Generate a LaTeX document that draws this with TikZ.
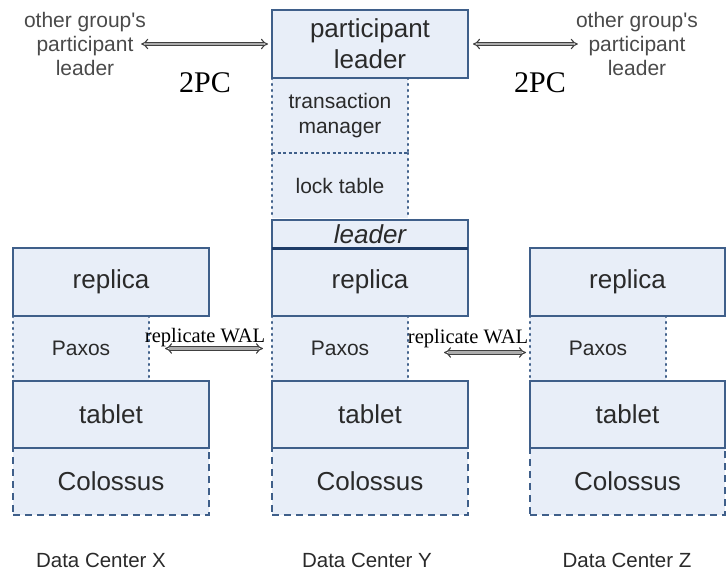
\documentclass[tikz,border=0pt]{standalone}
\usepackage{fontspec}
\setsansfont{Liberation Sans}
\newfontfamily\serifB{Liberation Serif}
\usetikzlibrary{arrows.meta}
\definecolor{boxfill}{HTML}{E8EEF8}
\definecolor{boxline}{HTML}{3F5F8A}
\definecolor{navyline}{HTML}{1E3C68}
\definecolor{txt}{HTML}{2A2A2A}
\definecolor{graytxt}{HTML}{4A4A4A}
\begin{document}
\begin{tikzpicture}[x=1pt,y=-1pt,
  base/.style={anchor=north west, inner sep=0pt, outer sep=0pt, text=txt, align=center},
  solidbox/.style={base, draw=boxline, line width=1.6pt, fill=boxfill,
    font=\sffamily\fontsize{26}{32}\selectfont},
  dashbox/.style={base, draw=boxline, line width=1.6pt, fill=boxfill,
    dash pattern=on 7pt off 5pt, font=\sffamily\fontsize{26}{32}\selectfont},
  dotregion/.style={base, fill=boxfill, font=\sffamily\fontsize{21}{25}\selectfont},
  dotside/.style={draw=boxline, line width=2.2pt, line cap=round, dash pattern=on 1pt off 5pt},
  conn/.style={draw=black!75, double=gray!65, double distance=2.4pt, line width=1.1pt, {Implies}-{Implies}},
  lbl/.style={inner sep=0pt, font=\serifB\fontsize{20.5}{24}\selectfont, text=black},
  bigl/.style={inner sep=0pt, font=\serifB\fontsize{30}{32}\selectfont, text=black},
  side/.style={inner sep=0pt, align=center, text=graytxt, font=\sffamily\fontsize{21}{24}\selectfont},
  dc/.style={inner sep=0pt, text=txt, font=\sffamily\fontsize{20.5}{24}\selectfont}
]
\useasboundingbox (0,0) rectangle (726,571);

% ---------- Colossus (dashed) ----------
\node[dashbox, minimum width=196pt, minimum height=67pt] (cX) at (13,448) {Colossus};
\node[dashbox, minimum width=196pt, minimum height=67pt] (cY) at (272,448) {Colossus};
\node[dashbox, minimum width=195pt, minimum height=67pt] (cZ) at (530,448) {Colossus};

% ---------- Paxos dotted regions ----------
\node[dotregion, minimum width=136pt, minimum height=65pt] (pX) at (13,316) {Paxos};
\node[dotregion, minimum width=136pt, minimum height=65pt] (pY) at (272,316) {Paxos};
\node[dotregion, minimum width=136pt, minimum height=65pt] (pZ) at (530,316) {Paxos};
\foreach \n in {pX,pY,pZ}{
  \draw[dotside] (\n.north west) -- (\n.south west);
  \draw[dotside] (\n.north east) -- (\n.south east);
}

% ---------- transaction manager / lock table ----------
\node[dotregion, minimum width=136pt, minimum height=75pt] (tm) at (272,78) {transaction\\manager};
\node[dotregion, minimum width=136pt, minimum height=65pt] (lt) at (272,153) {lock table};
\foreach \n in {tm,lt}{
  \draw[dotside] (\n.north west) -- (\n.south west);
  \draw[dotside] (\n.north east) -- (\n.south east);
}
\draw[draw=boxline, line width=1.8pt, dash pattern=on 3pt off 2.5pt] (lt.north west) -- (lt.north east);

% ---------- solid boxes ----------
\node[solidbox, minimum width=196pt, minimum height=68pt] (rX) at (13,248) {replica};
\node[solidbox, minimum width=196pt, minimum height=68pt] (rY) at (272,248) {replica};
\node[solidbox, minimum width=195pt, minimum height=68pt] (rZ) at (530,248) {replica};
\node[solidbox, minimum width=196pt, minimum height=67pt] (tX) at (13,381) {tablet};
\node[solidbox, minimum width=196pt, minimum height=67pt] (tY) at (272,381) {tablet};
\node[solidbox, minimum width=195pt, minimum height=67pt] (tZ) at (530,381) {tablet};

\node[solidbox, minimum width=196pt, minimum height=68pt] (pl) at (272,10) {participant\\[-1pt]leader};
\node[solidbox, minimum width=196pt, minimum height=28pt, font=\sffamily\itshape\fontsize{26}{28}\selectfont] (ld) at (272,220) {leader};
\draw[navyline, line width=3pt] (ld.south west) -- (ld.south east);

% ---------- side texts ----------
\node[side] (oL) at (85,44) {other group\textquotesingle s\\participant\\leader};
\node[side] (oR) at (637,44) {other group\textquotesingle s\\participant\\leader};

\node[bigl] (tpcL) at (205,83) {2PC};
\node[bigl] (tpcR) at (540,83) {2PC};

\node[lbl] (wL) at (205,338) {replicate WAL};
\node[lbl] (wR) at (468,339) {replicate WAL};

\node[dc] (dX) at (101,560) {Data Center X};
\node[dc] (dY) at (367,560) {Data Center Y};
\node[dc] (dZ) at (627,560) {Data Center Z};

% ---------- connectors ----------
\draw[conn, shorten <=-5pt, shorten >=4pt] (oL.east) -- (pl.west);
\draw[conn, shorten <=5pt, shorten >=-2pt] (pl.east) -- (oR.west);
\draw[conn, shorten <=16pt, shorten >=9pt] (pX.east) -- (pY.west);
\draw[conn, shorten <=36pt, shorten >=4pt] ([yshift=-4pt]pY.east) -- ([yshift=-4pt]pZ.west);
\end{tikzpicture}
\end{document}
